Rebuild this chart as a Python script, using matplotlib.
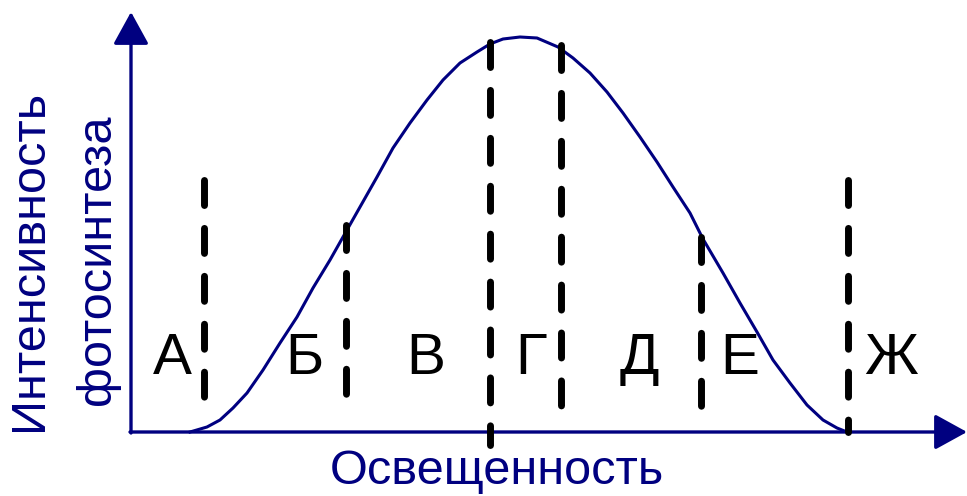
import numpy as np
import matplotlib.pyplot as plt

plt.rcParams['font.family'] = ['Liberation Sans', 'DejaVu Sans']

navy = '#000080'

# photosynthesis rate vs light intensity (arbitrary units)
light = [59, 76, 89, 102, 116, 132, 149, 166, 182, 199, 212, 229, 246, 262,
         279, 296, 312, 329, 346, 359, 372, 389, 406, 427, 442, 459, 476,
         492, 509, 526, 542, 559, 572, 592, 609, 626, 642, 659, 676, 692,
         706, 716]
rate = [0, 5, 12, 24, 39, 62, 89, 115, 144, 172, 195, 225, 255, 284,
        309, 332, 352, 369, 380, 388, 393, 395, 394, 385, 374, 359, 340,
        319, 295, 270, 245, 219, 193, 159, 129, 100, 72, 49, 27, 12,
        4, 0]

# zone boundaries: position, top, bottom
bound_x = [73, 215, 359, 430, 570, 717]
bound_top = [252, 207, 390, 387, 195, 252]
bound_bot = [22, 25, -13, 12, 17, 0]

# zone letters and their positions
zones = ['А', 'Б', 'В', 'Г', 'Д', 'Е', 'Ж']
zone_x = [41, 173, 295, 400, 508, 609, 760]
zone_y = 73

fig = plt.figure(figsize=(9.67, 4.96), dpi=100)
ax = fig.add_axes([0, 0, 1, 1])
ax.set_xlim(-131, 836)
ax.set_ylim(-64, 432)
ax.axis('off')

# axes with arrow heads
arr = dict(arrowstyle='-|>,head_length=2.0,head_width=1.1', color=navy,
           lw=2.4, mutation_scale=10, shrinkA=0, shrinkB=0)
ax.annotate('', xy=(0, 420), xytext=(0, -1), arrowprops=arr)
ax.annotate('', xy=(836, 0), xytext=(-1, 0), arrowprops=arr)

ax.plot(light, rate, color=navy, lw=2.2, solid_joinstyle='round', zorder=3)

for x, t, b in zip(bound_x, bound_top, bound_bot):
    ax.plot([x, x], [t, b], color='black', lw=5, linestyle=(0, (3.6, 3.3)),
            dash_capstyle='round', zorder=4)

for s, x in zip(zones, zone_x):
    ax.text(x, zone_y, s, fontsize=42, ha='center', va='center', color='black')

ax.text(-101, 172, 'Интенсивность', rotation=90, fontsize=35, color=navy,
        ha='center', va='center')
ax.text(-33, 172, 'фотосинтеза', rotation=90, fontsize=35, color=navy,
        ha='center', va='center')
ax.text(366, -40, 'Освещенность', fontsize=35, color=navy,
        ha='center', va='center')

fig.savefig('out.png', dpi=100)
